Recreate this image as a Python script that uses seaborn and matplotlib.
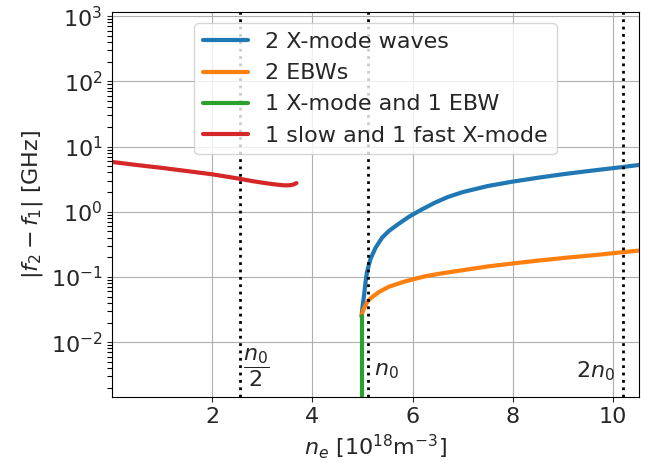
import numpy as np
import pandas as pd
import matplotlib

matplotlib.use('Agg')
import matplotlib.pyplot as plt
from matplotlib.ticker import LogLocator
import seaborn as sns

# values (x in 1e18 m^-3, y in GHz)
xmode_ne = [4.98, 5.0, 5.03, 5.06, 5.09, 5.16, 5.26, 5.39, 5.53, 5.73, 5.93, 6.03, 6.19,
            6.43, 6.7, 7.0, 7.5, 8.0, 8.5, 9.0, 9.5, 10.0, 10.2, 10.55]
xmode_df = [0.025, 0.035, 0.052, 0.083, 0.12, 0.19, 0.28, 0.40, 0.51, 0.66, 0.84, 0.93, 1.09,
            1.36, 1.68, 2.0, 2.48, 2.9, 3.32, 3.76, 4.2, 4.66, 4.86, 5.25]

ebw_ne = [4.98, 5.0, 5.03, 5.06, 5.1, 5.16, 5.25, 5.33, 5.53, 5.86, 6.24, 6.5, 7.0, 7.5, 8.03,
          8.5, 9.09, 9.6, 10.2, 10.55]
ebw_df = [0.025, 0.029, 0.033, 0.037, 0.042, 0.047, 0.053, 0.059, 0.071, 0.086, 0.102, 0.111, 0.127, 0.145, 0.162,
          0.178, 0.198, 0.215, 0.24, 0.255]

mixed_ne = [4.98, 4.98]
mixed_df = [0.0014, 0.025]

slowfast_ne = [0.0, 0.5, 1.0, 1.5, 2.0, 2.5, 2.8, 3.1, 3.3, 3.45, 3.55, 3.62, 3.68]
slowfast_df = [5.8, 5.2, 4.7, 4.2, 3.75, 3.25, 2.95, 2.72, 2.6, 2.54, 2.55, 2.62, 2.75]

labels = ['2 X-mode waves', '2 EBWs', '1 X-mode and 1 EBW', '1 slow and 1 fast X-mode']
colors = ['#1f77b4', '#ff7f0e', '#2ca02c', '#d62728']

n0 = 5.1
marks = [n0 / 2, n0, 2 * n0]

sns.set_style('ticks')
plt.rcParams['font.family'] = ['DejaVu Sans']

fig = plt.figure(figsize=(6.6, 4.68), dpi=100)
ax = fig.add_axes([0.170, 0.152, 0.798, 0.822])

series = [(xmode_ne, xmode_df), (ebw_ne, ebw_df), (mixed_ne, mixed_df), (slowfast_ne, slowfast_df)]
for (xs, ys), lab, c in zip(series, labels, colors):
    d = pd.DataFrame({'ne': xs, 'df': ys})
    sns.lineplot(data=d, x='ne', y='df', ax=ax, color=c, lw=3, label=lab,
                 sort=False, estimator=None)

for m in marks:
    ax.axvline(m, color='black', ls=':', lw=2)

ax.set_yscale('log')
ax.set_xlim(0, 10.52)
ax.set_ylim(1.45e-3, 1.15e3)
ax.set_xticks([2, 4, 6, 8, 10])
ax.yaxis.set_major_locator(LogLocator(base=10, numticks=20))
ax.yaxis.set_minor_locator(LogLocator(base=10, subs=np.arange(2, 10), numticks=20))
ax.grid(True, which='major', color='#b0b0b0', lw=0.8)
ax.tick_params(labelsize=16)
ax.tick_params(axis='y', which='minor', left=True, length=3.5, width=0.8, color='black')
for s in ax.spines.values():
    s.set_color('black')

ax.text(2.62, 0.0040, r'$\dfrac{n_0}{2}$', fontsize=16, va='center', ha='left')
ax.text(5.22, 0.0036, r'$n_0$', fontsize=16, va='center', ha='left')
ax.text(10.05, 0.0036, r'$2n_0$', fontsize=16, va='center', ha='right')

ax.set_xlabel(r'$n_e$ [$10^{18}$m$^{-3}$]', fontsize=16)
ax.set_ylabel(r'$|f_2 - f_1|$ [GHz]', fontsize=16)
ax.legend(loc='upper center', fontsize=16, handlelength=2.0)

fig.savefig('out.png', dpi=100)
